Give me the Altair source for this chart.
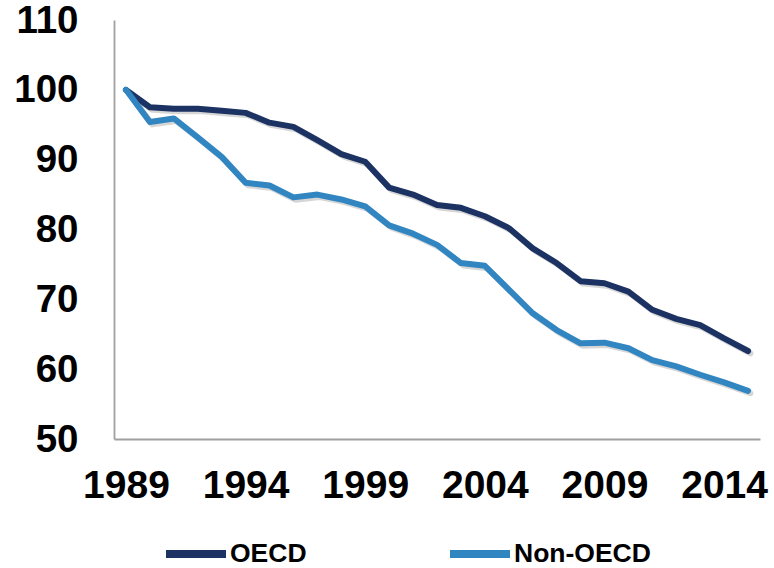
import altair as alt
import pandas as pd

# Index values (1989 = 100) by year
years = list(range(1989, 2016))
oecd = [100, 97.5, 97.3, 97.3, 97.0, 96.7, 95.3, 94.7, 92.8, 90.8, 89.7,
        86.0, 85.0, 83.5, 83.1, 81.9, 80.2, 77.3, 75.2, 72.6, 72.3, 71.1,
        68.5, 67.2, 66.3, 64.4, 62.6]
non_oecd = [100, 95.4, 95.9, 93.2, 90.4, 86.7, 86.3, 84.6, 85.0, 84.3, 83.3,
            80.6, 79.4, 77.8, 75.2, 74.8, 71.4, 68.0, 65.6, 63.7, 63.8, 63.0,
            61.3, 60.4, 59.2, 58.1, 56.9]
series_names = ["OECD", "Non-OECD"]
series_colors = ["#1b3262", "#3186c2"]
x_ticks = [1989, 1994, 1999, 2004, 2009, 2014]
y_ticks = [50, 60, 70, 80, 90, 100, 110]

df = pd.concat([
    pd.DataFrame({"year": years, "value": oecd, "series": "OECD"}),
    pd.DataFrame({"year": years, "value": non_oecd, "series": "Non-OECD"}),
])

FONT = "Liberation Sans"

x_scale = alt.Scale(domain=[1988.5, 2015.5], nice=False, zero=False)
y_scale = alt.Scale(domain=[50, 110], nice=False, zero=False)

x_axis = alt.Axis(values=x_ticks, format="d", title=None, ticks=False,
                  grid=False, labelPadding=27, labelFontSize=39,
                  labelFontWeight="bold", labelFont=FONT,
                  labelColor="#000000", domainColor="#a0a0a0",
                  domainWidth=1.8, labelFlush=False, labelOverlap=False)
y_axis = alt.Axis(values=y_ticks, title=None, ticks=False, grid=False,
                  labelPadding=36, labelFontSize=38.5,
                  labelFontWeight="bold", labelFont=FONT,
                  labelColor="#000000", domainColor="#a0a0a0",
                  domainWidth=1.8, labelFlush=False, labelOverlap=False)

base = alt.Chart(df)

# soft drop shadow beneath each line
shadow = base.transform_calculate(
    sx="datum.year + 0.1", sy="datum.value - 0.35"
).mark_line(strokeWidth=6, color="#000000", opacity=0.16,
            strokeCap="round", strokeJoin="round").encode(
    x=alt.X("sx:Q", scale=x_scale, axis=x_axis),
    y=alt.Y("sy:Q", scale=y_scale, axis=y_axis),
    detail="series:N",
)

lines = base.mark_line(strokeWidth=6, strokeCap="round", strokeJoin="round").encode(
    x=alt.X("year:Q", scale=x_scale, axis=x_axis),
    y=alt.Y("value:Q", scale=y_scale, axis=y_axis),
    color=alt.Color("series:N",
                    scale=alt.Scale(domain=series_names, range=series_colors),
                    sort=series_names,
                    legend=alt.Legend(title=None, orient="none", legendX=48,
                                      legendY=500, direction="horizontal",
                                      columns=2, columnPadding=127,
                                      symbolType="stroke", symbolSize=3600,
                                      symbolStrokeWidth=8, labelOffset=0,
                                      labelFont=FONT, labelFontSize=26.5,
                                      labelFontWeight="bold",
                                      labelColor="#000000")),
)

chart = alt.layer(shadow, lines).properties(
    width=646,
    height=419,
    autosize=alt.AutoSizeParams(type="none"),
    padding={"left": 114, "top": 20, "right": 14, "bottom": 129},
    background="#ffffff",
).configure_view(stroke=None)

chart.save("out.html", embed_options={"renderer": "svg", "actions": False})
